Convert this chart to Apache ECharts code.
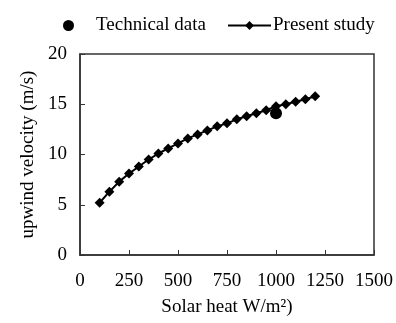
<!DOCTYPE html>
<html><head><meta charset="utf-8">
<script src="https://cdn.jsdelivr.net/npm/echarts@6/dist/echarts.min.js"></script>
<style>html,body{margin:0;padding:0;background:#fff}#c{width:396px;height:323px}</style>
</head><body><div id="c"></div>
<script>
var solarHeat = [100,150,200,250,300,350,400,450,500,550,600,650,700,750,800,850,900,950,1000,1050,1100,1150,1200];
var upwindVelocity = [5.2,6.3,7.3,8.1,8.8,9.5,10.1,10.6,11.1,11.6,12.0,12.4,12.8,13.1,13.5,13.8,14.1,14.4,14.8,15.0,15.25,15.5,15.8];
var techX = [1000];
var techY = [14.1];
var xTicks = [0,250,500,750,1000,1250,1500];
var yTicks = [0,5,10,15,20];

var F = '"Liberation Serif","Times New Roman",serif';
var FS = 19;
var chart = echarts.init(document.getElementById('c'));
chart.setOption({
  animation:false,
  textStyle:{fontFamily:F,color:'#000'},
  legend:[
    {data:['Technical data'],left:63,top:16,itemWidth:11,itemHeight:11,padding:0,
     textStyle:{fontFamily:F,fontSize:FS,color:'#000',padding:[0,0,0,17]}},
    {data:['Present study'],left:227,top:16,itemWidth:43,itemHeight:11,padding:0,
     textStyle:{fontFamily:F,fontSize:FS,color:'#000',padding:[0,0,0,-3]}}
  ],
  grid:{left:80,right:22,top:54,bottom:68,show:true,borderColor:'#333',borderWidth:1.5},
  xAxis:{type:'value',min:0,max:1500,interval:250,
    name:'Solar heat W/m\u00b2)',nameLocation:'middle',nameGap:43,
    nameTextStyle:{fontFamily:F,fontSize:FS,color:'#000'},
    axisLine:{lineStyle:{color:'#333',width:1.5}},
    axisTick:{inside:true,length:5,lineStyle:{color:'#333'}},
    axisLabel:{fontFamily:F,fontSize:FS,color:'#000',margin:17,
      formatter:function(v){return String(v);}},
    splitLine:{show:false}},
  yAxis:{type:'value',min:0,max:20,interval:5,
    name:'upwind velocity (m/s)',nameLocation:'middle',nameGap:35,
    nameTextStyle:{fontFamily:F,fontSize:FS,color:'#000'},
    axisLine:{show:true,lineStyle:{color:'#333',width:1.5}},
    axisTick:{show:true,inside:true,length:5,lineStyle:{color:'#333'}},
    axisLabel:{fontFamily:F,fontSize:FS,color:'#000',margin:13,
      formatter:function(v){return String(v);}},
    splitLine:{show:false}},
  series:[
    {name:'Technical data',type:'scatter',symbol:'circle',symbolSize:12,
     itemStyle:{color:'#000',opacity:1},z:3,
     data:techX.map(function(x,i){return [x,techY[i]];})},
    {name:'Present study',type:'line',symbol:'diamond',symbolSize:10,showSymbol:true,
     lineStyle:{color:'#000',width:2},itemStyle:{color:'#000'},
     data:solarHeat.map(function(x,i){return [x,upwindVelocity[i]];})}
  ]
});
</script></body></html>
